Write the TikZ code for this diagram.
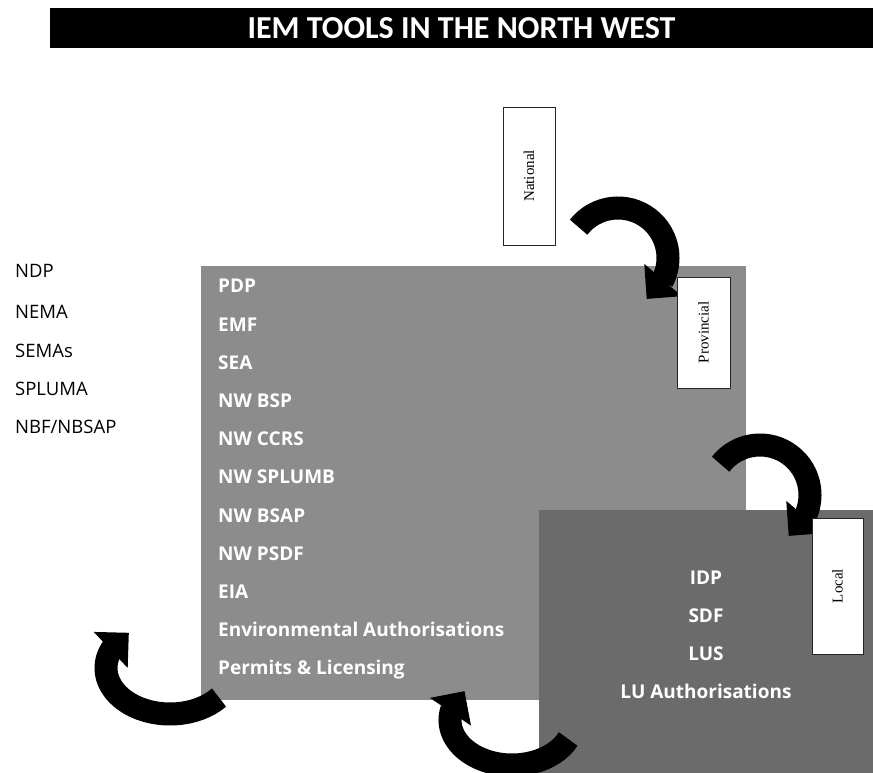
\documentclass[tikz,border=0pt]{standalone}
\usepackage{fontspec}
\setmainfont{Open Sans}
\newfontfamily\titlefont{Carlito}
\newfontfamily\lvlfont{Liberation Serif}
\usetikzlibrary{arrows.meta, bending}

\definecolor{provgray}{gray}{0.55}
\definecolor{localgray}{gray}{0.42}

\tikzset{
  listitem/.style={anchor=base west, inner sep=0pt, font=\fontsize{18.5}{22}\selectfont},
  boxitem/.style={anchor=base west, inner sep=0pt, text=white, font=\bfseries\fontsize{19}{22}\selectfont},
  lvlbox/.style={draw=black!85, fill=white, rotate=90, inner sep=0pt, font=\lvlfont\fontsize{15}{17}\selectfont},
  bigarrow/.style={line width=23pt, -{Triangle[length=25pt,width=48pt]}}
}

\begin{document}
\begin{tikzpicture}[x=1pt,y=1pt]
\useasboundingbox (0,0) rectangle (873,773);

% title
\fill (50,725) rectangle (873,765);
\node[text=white, font=\titlefont\bfseries\fontsize{32}{34}\selectfont] (title) at (461.5,745) {IEM TOOLS IN THE NORTH WEST};

% national tools
\node[listitem] (ndp) at (15,495) {NDP};
\node[listitem] (nema) at (15,454) {NEMA};
\node[listitem] (semas) at (15,415) {SEMAs};
\node[listitem] (spluma) at (15,377) {SPLUMA};
\node[listitem] (nbf) at (15,339) {NBF/NBSAP};

% provincial block
\fill[provgray] (201,73) rectangle (746,507);
\node[lvlbox, minimum width=138pt, minimum height=52pt] (national) at (529,597) {National};
\coordinate (natarc) at (618,515);
\draw[bigarrow] ([shift={(142:50)}]natarc) arc[start angle=142, end angle=-55, radius=50];
\node[lvlbox, minimum width=111pt, minimum height=53pt] (provincial) at (703.5,440.5) {Provincial};

\node[boxitem] (pdp) at (218,480) {PDP};
\node[boxitem] (emf) at (218,441.8) {EMF};
\node[boxitem] (sea) at (218,403.6) {SEA};
\node[boxitem] (bsp) at (218,365.4) {NW BSP};
\node[boxitem] (ccrs) at (218,327.2) {NW CCRS};
\node[boxitem] (splumb) at (218,289) {NW SPLUMB};
\node[boxitem] (bsap) at (218,250.8) {NW BSAP};
\node[boxitem] (psdf) at (218,212.6) {NW PSDF};
\node[boxitem] (eia) at (218,174.4) {EIA};
\node[boxitem] (envauth) at (218,136.2) {Environmental Authorisations};
\node[boxitem] (permits) at (218,98) {Permits \& Licensing};

% local block
\fill[localgray] (539,0) rectangle (873,263);
\coordinate (provarc) at (760,278);
\draw[bigarrow] ([shift={(142:50)}]provarc) arc[start angle=142, end angle=-55, radius=50];
\node[lvlbox, minimum width=136pt, minimum height=51pt] (local) at (837.5,187) {Local};

\node[boxitem, anchor=base] (idp) at (706,188) {IDP};
\node[boxitem, anchor=base] (sdf) at (706,150) {SDF};
\node[boxitem, anchor=base] (lus) at (706,112) {LUS};
\node[boxitem, anchor=base] (luauth) at (706,74) {LU Authorisations};

% feedback arrows
\coordinate (locarc) at (512,53);
\draw[bigarrow] ([shift={(-25:62 and 45)}]locarc) arc[start angle=-25, end angle=-220, x radius=62, y radius=45];
\coordinate (leftarc) at (170,105);
\draw[bigarrow] ([shift={(-40:64 and 46)}]leftarc) arc[start angle=-40, end angle=-230, x radius=64, y radius=46];
\end{tikzpicture}
\end{document}
